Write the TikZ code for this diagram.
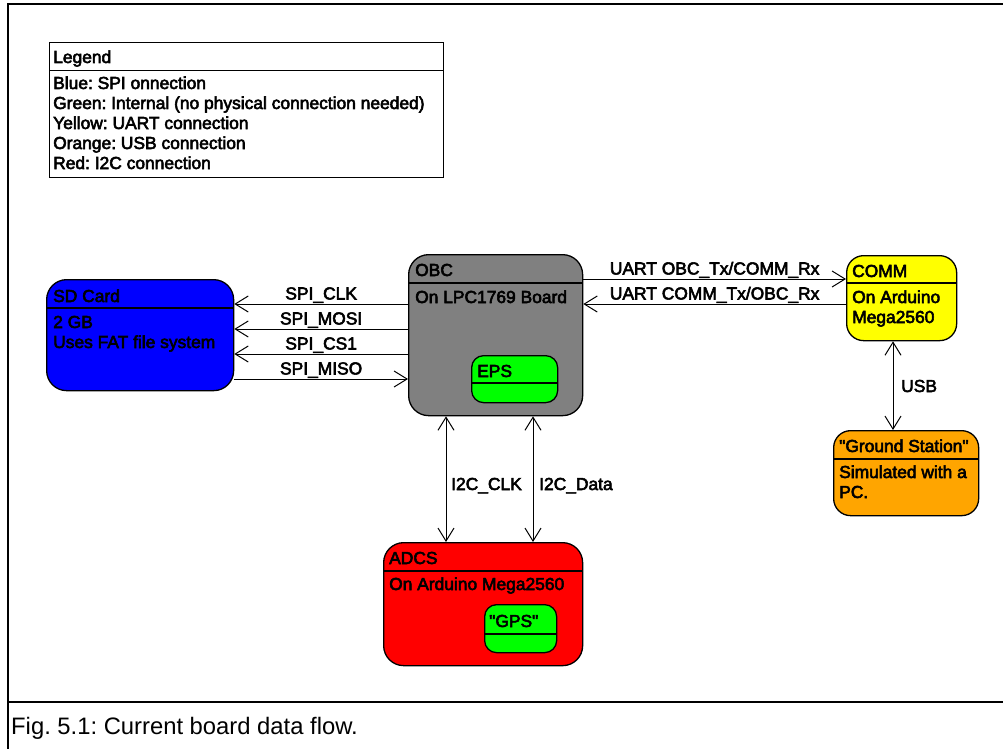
\documentclass[tikz,border=0pt]{standalone}
\usepackage{fontspec}
\setmainfont{Liberation Sans}
\usetikzlibrary{arrows.meta}
\frenchspacing

% text drawn with fill plus a thin outline stroke, for a heavier look
\newcommand\heavytext[1]{\special{pdf:literal q 2 Tr 0.55 w}#1\special{pdf:literal Q}}

\definecolor{sdblue}{HTML}{0000FF}
\definecolor{obcgray}{HTML}{808080}
\definecolor{intgreen}{HTML}{00FF00}
\definecolor{commyellow}{HTML}{FFFF00}
\definecolor{gsorange}{HTML}{FFA500}
\definecolor{adcsred}{HTML}{FF0000}

\begin{document}
\begin{tikzpicture}[x=1pt,y=1pt,
  >={Straight Barb[length=13pt,width=16pt]},
  box/.style={draw=black, line width=1.3pt, anchor=north west, inner sep=0pt},
  divider/.style={draw=black, line width=1.3pt},
  txt/.style={anchor=base west, inner sep=0pt, font=\frenchspacing\fontsize{17.4}{20}\selectfont},
  lbl/.style={anchor=base, inner sep=0pt, yshift=4.5pt, font=\frenchspacing\fontsize{17.4}{20}\selectfont},
  arr/.style={line width=1pt},
  frame/.style={line width=2.6pt}]

\useasboundingbox (0,0) rectangle (1003,-749);

% outer frame and caption strip
\draw[frame] (7,-4) -- (1003,-4);
\draw[frame] (8,-4) -- (8,-749);
\draw[frame] (8,-702) -- (1003,-702);
\node[anchor=base west, inner sep=0pt, font=\frenchspacing\fontsize{23.8}{28}\selectfont] (caption) at (11,-734) {Fig. 5.1: Current board data flow.};

% legend
\node[draw=black, line width=1pt, anchor=north west, inner sep=0pt, minimum width=394pt, minimum height=135pt] (legend) at (49,-42) {};
\draw[line width=1pt] (legend.west |- 0,-71) -- (legend.east |- 0,-71);
\node[txt] (legtitle) at (53,-63) {\heavytext{Legend}};
\node[txt] (leg1) at (53,-89) {\heavytext{Blue: SPI onnection}};
\node[txt] (leg2) at (53,-109) {\heavytext{Green: Internal (no physical connection needed)}};
\node[txt] (leg3) at (53,-129) {\heavytext{Yellow: UART connection}};
\node[txt] (leg4) at (53,-149) {\heavytext{Orange: USB connection}};
\node[txt] (leg5) at (53,-169) {\heavytext{Red: I2C connection}};

% SD card
\node[box, fill=sdblue, rounded corners=20pt, minimum width=187pt, minimum height=111pt] (sd) at (46,-279) {};
\draw[divider] (sd.west |- 0,-308) -- (sd.east |- 0,-308);
\node[txt] (sdtitle) at (53,-302) {\heavytext{SD Card}};
\node[txt] (sdl1) at (53,-328) {\heavytext{2 GB}};
\node[txt] (sdl2) at (53,-348) {\heavytext{Uses FAT file system}};

% OBC
\node[box, fill=obcgray, rounded corners=20pt, minimum width=174pt, minimum height=161pt] (obc) at (408,-254) {};
\draw[divider] (obc.west |- 0,-283) -- (obc.east |- 0,-283);
\node[txt] (obctitle) at (415,-276) {\heavytext{OBC}};
\node[txt] (obcl1) at (415,-303) {\heavytext{On LPC1769 Board}};

% EPS inside OBC
\node[box, fill=intgreen, rounded corners=12pt, minimum width=86pt, minimum height=47pt] (eps) at (471,-355) {};
\draw[divider] (eps.west |- 0,-383) -- (eps.east |- 0,-383);
\node[txt] (epstitle) at (477,-377) {\heavytext{EPS}};

% COMM
\node[box, fill=commyellow, rounded corners=17pt, minimum width=110pt, minimum height=85pt] (comm) at (846,-255) {};
\draw[divider] (comm.west |- 0,-283) -- (comm.east |- 0,-283);
\node[txt] (commtitle) at (852,-277) {\heavytext{COMM}};
\node[txt] (comml1) at (852,-303) {\heavytext{On Arduino}};
\node[txt] (comml2) at (852,-323) {\heavytext{Mega2560}};

% Ground station
\node[box, fill=gsorange, rounded corners=17pt, minimum width=145pt, minimum height=85pt] (gs) at (833,-430) {};
\draw[divider] (gs.west |- 0,-459) -- (gs.east |- 0,-459);
\node[txt] (gstitle) at (839,-452) {\heavytext{\textquotedbl Ground Station\textquotedbl}};
\node[txt] (gsl1) at (839,-478) {\heavytext{Simulated with a}};
\node[txt] (gsl2) at (839,-498) {\heavytext{PC.}};

% ADCS
\node[box, fill=adcsred, rounded corners=20pt, minimum width=199pt, minimum height=123pt] (adcs) at (383,-542) {};
\draw[divider] (adcs.west |- 0,-571) -- (adcs.east |- 0,-571);
\node[txt] (adcstitle) at (389,-564) {\heavytext{ADCS}};
\node[txt] (adcsl1) at (389,-590) {\heavytext{On Arduino Mega2560}};

% GPS inside ADCS
\node[box, fill=intgreen, rounded corners=12pt, minimum width=72pt, minimum height=48pt] (gps) at (484,-604) {};
\draw[divider] (gps.west |- 0,-634) -- (gps.east |- 0,-634);
\node[txt] (gpstitle) at (489,-627) {\heavytext{\textquotedbl GPS\textquotedbl}};

% SPI lines
\draw[arr,->] (obc.west |- 0,-304) -- node[lbl] {\heavytext{SPI\_CLK}} (sd.east |- 0,-304);
\draw[arr,->] (obc.west |- 0,-329) -- node[lbl] {\heavytext{SPI\_MOSI}} (sd.east |- 0,-329);
\draw[arr,->] (obc.west |- 0,-354) -- node[lbl] {\heavytext{SPI\_CS1}} (sd.east |- 0,-354);
\draw[arr,->] (sd.east |- 0,-379) -- node[lbl] {\heavytext{SPI\_MISO}} (obc.west |- 0,-379);

% UART lines
\draw[arr,->] (obc.east |- 0,-279) -- node[lbl] {\heavytext{UART OBC\_Tx/COMM\_Rx}} (comm.west |- 0,-279);
\draw[arr,->] (comm.west |- 0,-304) -- node[lbl] {\heavytext{UART COMM\_Tx/OBC\_Rx}} (obc.east |- 0,-304);

% USB link
\draw[arr,<->] (893,0 |- comm.south) -- (893,0 |- gs.north);
\node[txt] (usb) at (901,-392) {\heavytext{USB}};

% I2C lines
\draw[arr,<->] (446,0 |- obc.south) -- (446,0 |- adcs.north);
\draw[arr,<->] (533,0 |- obc.south) -- (533,0 |- adcs.north);
\node[txt] (i2cclk) at (451,-490) {\heavytext{I2C\_CLK}};
\node[txt] (i2cdata) at (539,-490) {\heavytext{I2C\_Data}};

\end{tikzpicture}
\end{document}
